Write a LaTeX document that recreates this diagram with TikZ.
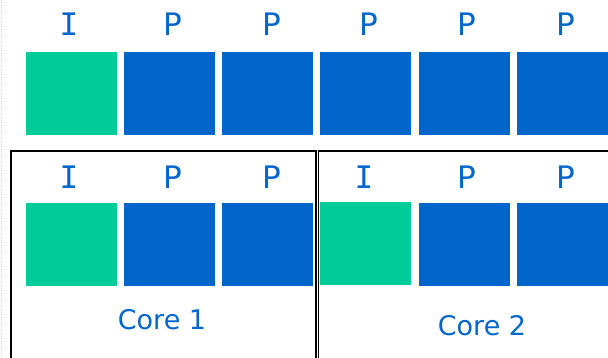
\documentclass[tikz,border=0pt]{standalone}
\usepackage{fontspec}
\setmainfont{DejaVu Sans}
\newfontfamily\slabfont{DejaVu Sans Mono}
\definecolor{iframe}{HTML}{00CC99}
\definecolor{pframe}{HTML}{0066CC}
\begin{document}
\begin{tikzpicture}[x=1pt,y=-1pt]
    \tikzstyle{frame}=[inner sep=0pt,minimum width=91pt,minimum height=83pt]
    \tikzstyle{iframe}=[frame,fill=iframe]
    \tikzstyle{pframe}=[frame,fill=pframe]
    \tikzstyle{type}=[text=pframe,inner sep=0pt,font=\fontsize{31}{36}\selectfont]
    \tikzstyle{itype}=[type,font=\fontsize{31}{36}\slabfont]
    \tikzstyle{corebox}=[draw=black,line width=1.6pt,inner sep=0pt,anchor=north west]
    \tikzstyle{corename}=[text=pframe,font=\fontsize{27}{32}\selectfont]

    \useasboundingbox (0,0) rectangle (608,358);
    \clip (0,0) rectangle (608,358);
    \draw[gray!40,dotted] (1.5,0) -- (1.5,358);

    % single encoder: one GOP
    \node[iframe] at (71.5,93.5) (t0) {};
    \node[pframe] at (169.5,93.5) (t1) {};
    \node[pframe] at (267.5,93.5) (t2) {};
    \node[pframe] at (365.5,93.5) (t3) {};
    \node[pframe] at (464.5,93.5) (t4) {};
    \node[pframe] at (562.5,93.5) (t5) {};

    \node[itype] at (69,24) (lt0) {I};
    \node[type] at (173,24) (lt1) {P};
    \node[type] at (272,24) (lt2) {P};
    \node[type] at (369,24) (lt3) {P};
    \node[type] at (467,24) (lt4) {P};
    \node[type] at (566,24) (lt5) {P};

    % split over two cores
    \node[corebox,minimum width=305pt,minimum height=230pt] at (10,150) (core1) {};
    \node[corebox,minimum width=300pt,minimum height=230pt] at (317.5,150) (core2) {};

    \node[iframe] at (71.5,245) (a0) {};
    \node[pframe] at (169.5,245) (a1) {};
    \node[pframe] at (267.5,245) (a2) {};
    \node[iframe] at (365.5,244) (b0) {};
    \node[pframe] at (464.5,245) (b1) {};
    \node[pframe] at (562.5,245) (b2) {};

    \node[itype] at (69,177) (la0) {I};
    \node[type] at (173,177) (la1) {P};
    \node[type] at (272,177) (la2) {P};
    \node[itype] at (364,177) (lb0) {I};
    \node[type] at (467,177) (lb1) {P};
    \node[type] at (566,177) (lb2) {P};

    \node[corename] at (162,320) (n1) {Core 1};
    \node[corename] at (482,326) (n2) {Core 2};
\end{tikzpicture}
\end{document}
